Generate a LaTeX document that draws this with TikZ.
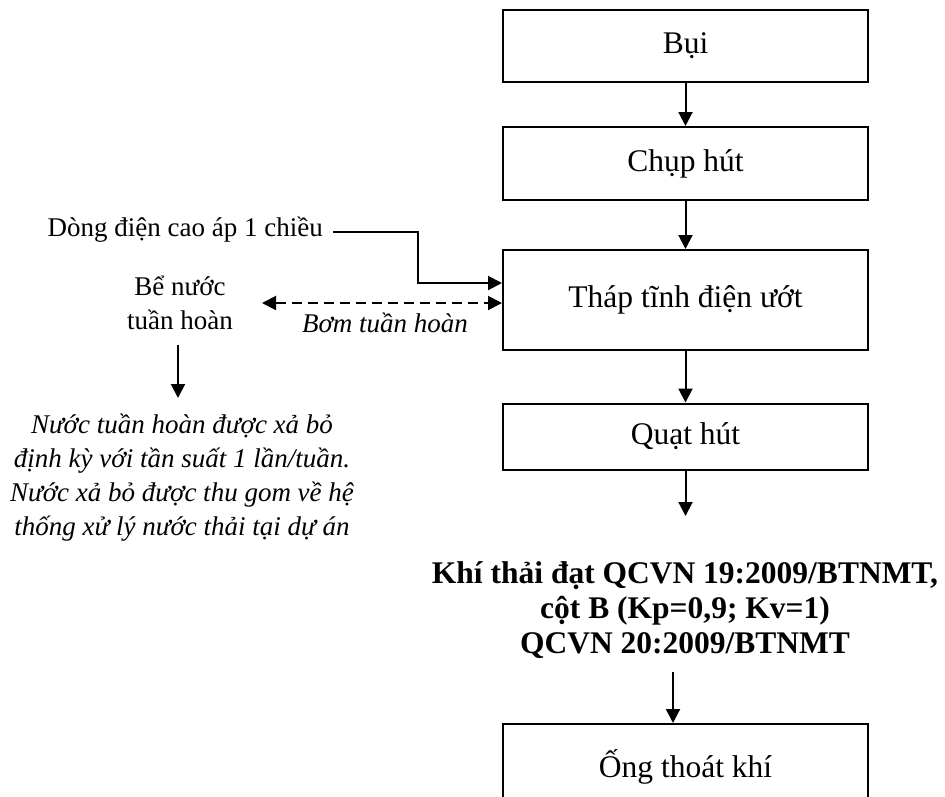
\documentclass[tikz,border=0pt]{standalone}
\usepackage{fontspec}
\setmainfont{Liberation Serif}
\usetikzlibrary{arrows.meta}
\begin{document}
\begin{tikzpicture}[x=1pt,y=-1pt,
  every node/.style={font=\fontsize{27}{34}\selectfont, inner sep=0pt},
  stepbox/.style={draw, line width=2pt, minimum width=365pt,
    font=\fontsize{31.5}{36}\selectfont, text height=22pt, text depth=7pt},
  flow/.style={line width=2pt, -{Triangle[width=14pt,length=14pt]}},
  pump/.style={line width=2pt, dash pattern=on 10pt off 6pt,
    {Triangle[width=14pt,length=14pt]}-{Triangle[width=14pt,length=14pt]}},
  note/.style={font=\fontsize{27}{34}\selectfont\itshape, align=center},
  result/.style={font=\fontsize{31.5}{35}\selectfont\bfseries, align=center}
]
\useasboundingbox (0,0) rectangle (945,796);
\clip (0,0) rectangle (945,796);

% main process column
\node[stepbox, minimum height=72pt]  (bui)  at (685.5,46)  {Bụi};
\node[stepbox, minimum height=73pt]  (chup) at (685.5,163.5) {Chụp hút};
\node[stepbox, minimum height=100pt] (thap) at (685.5,300) {Tháp tĩnh điện ướt};
\node[stepbox, minimum height=66pt]  (quat) at (685.5,436.5) {Quạt hút};
\node[stepbox, minimum height=92pt]  (ong)  at (685.5,770) {Ống thoát khí};

\node[result] (kt) at (685,610) {Khí thải đạt QCVN 19:2009/BTNMT,\\
  cột B (Kp=0,9; Kv=1)\\QCVN 20:2009/BTNMT};
\coordinate (ktin)  at (685.5,516);
\coordinate (ktout) at (673,672);

\draw[flow] (bui) -- (chup);
\draw[flow] (chup) -- (thap);
\draw[flow] (thap) -- (quat);
\draw[flow] (quat) -- (ktin);
\draw[flow] (ktout) -- (ktout |- ong.north);

% high-voltage supply
\node[anchor=base east] (dd) at (323,236) {Dòng điện cao áp 1 chiều};
\draw[flow] ([xshift=10pt,yshift=4pt]dd.base east) -- ++(85,0)
  |- ([yshift=17pt]thap.west);

% circulation tank and pump
\node[align=center] (be) at (180,303) {Bể nước\\tuần hoàn};
\coordinate (pumpL) at (262,303);
\draw[pump] (pumpL) -- (thap.west |- pumpL);
\node[note, anchor=base] (bom) at (385,332) {Bơm tuần hoàn};

% periodic discharge
\coordinate (drain) at (178,345);
\node[note, anchor=north] (para) at (182,414) {Nước tuần hoàn được xả bỏ\\
  định kỳ với tần suất 1 lần/tuần.\\
  Nước xả bỏ được thu gom về hệ\\
  thống xử lý nước thải tại dự án};
\draw[flow] (drain) -- (drain |- 0,398);
\end{tikzpicture}
\end{document}
